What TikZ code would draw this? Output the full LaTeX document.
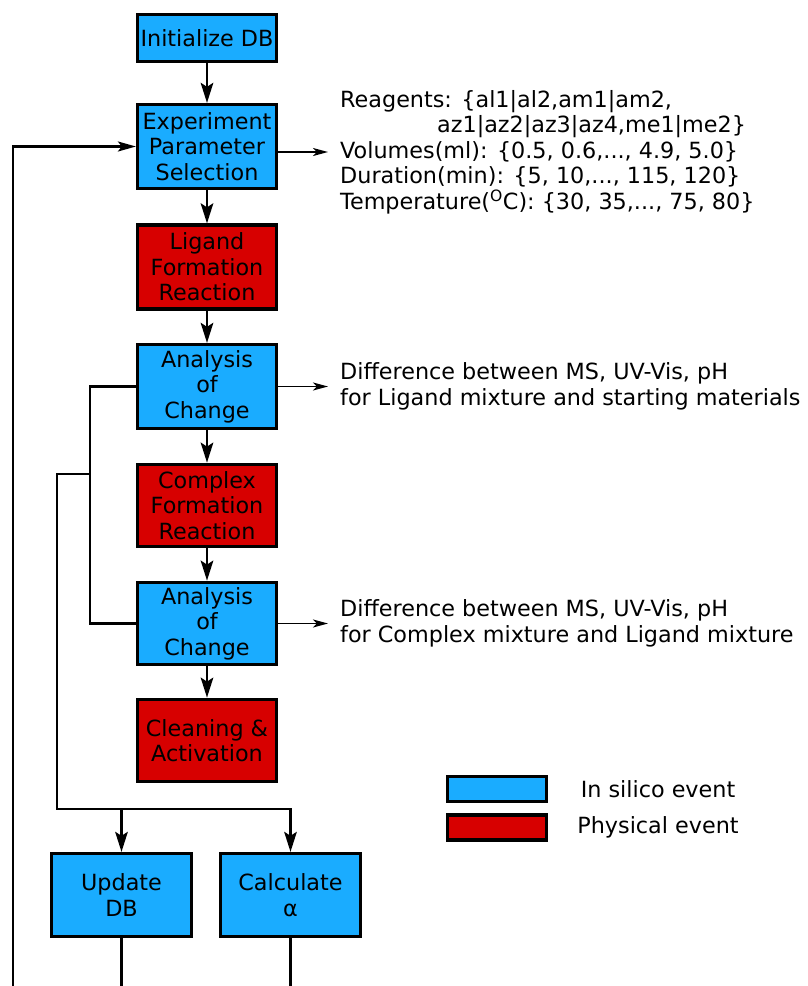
\documentclass[tikz,border=0pt]{standalone}
\usepackage{fontspec}
\setmainfont{DejaVu Sans}
\usetikzlibrary{arrows.meta}

\definecolor{silico}{RGB}{26,172,255}
\definecolor{physical}{RGB}{215,0,0}

\begin{document}
\begin{tikzpicture}[x=1pt, y=-1pt,
	font=\fontsize{22.3}{25.5}\selectfont,
	>={Stealth[length=20pt,width=12.5pt,inset=4pt]},
	box/.style={draw, line width=3.2pt, align=center, inner sep=0pt, minimum width=139pt, minimum height=84pt},
	silicobox/.style={box, fill=silico},
	physbox/.style={box, fill=physical},
	flow/.style={line width=2.6pt, ->},
	wire/.style={line width=2.2pt},
	loopflow/.style={line width=2.2pt, ->, >={Stealth[length=18pt,width=10pt,inset=4pt]}},
	note/.style={line width=1.8pt, ->, >={Stealth[length=15pt,width=8pt,inset=4pt]}},
	notetext/.style={anchor=west, align=left, inner xsep=12pt, inner ysep=0pt},
	keybox/.style={draw, line width=3.2pt, minimum width=99pt, minimum height=25pt, inner sep=0pt}]

	\useasboundingbox (0,0) rectangle (808,986);

	\node[silicobox, minimum height=47pt] (init) at (207,38) {Initialize DB};
	\node[silicobox] (exp) at (207,146.5) {Experiment\\Parameter\\Selection};
	\node[physbox] (lig) at (207,267) {Ligand\\Formation\\Reaction};
	\node[silicobox] (ana1) at (207,386.5) {Analysis\\of\\Change};
	\node[physbox, minimum height=82.5pt] (comp) at (207,505.5) {Complex\\Formation\\Reaction};
	\node[silicobox, minimum height=82.5pt] (ana2) at (207,623.5) {Analysis\\of\\Change};
	\node[physbox, minimum height=82.5pt] (clean) at (207,740.5) {Cleaning \&\\Activation};
	\node[silicobox, minimum width=140pt, minimum height=83pt] (upd) at (121.5,895) {Update\\DB};
	\node[silicobox, minimum width=140pt, minimum height=83pt] (calc) at (290.5,895) {Calculate\\α};

	\draw[flow] (init) -- (exp);
	\draw[flow] (exp) -- (lig);
	\draw[flow] (lig) -- (ana1);
	\draw[flow] (ana1) -- (comp);
	\draw[flow] (comp) -- (ana2);
	\draw[flow] (ana2) -- (clean);

	\coordinate (loopstart) at (13,986);
	\draw[loopflow] (loopstart) |- (exp);

	\draw[wire] (ana1.west) -- ++(-46,0) |- (ana2.west);
	\coordinate (tap) at (90,474);
	\coordinate (bus) at (57,809);
	\draw[flow] (tap) -| (bus) -| (calc);
	\draw[flow] (upd |- bus) -- (upd);

	\coordinate (updout) at (121.5,986);
	\coordinate (calcout) at (290.5,986);
	\draw[wire] (upd) -- (updout);
	\draw[wire] (calc) -- (calcout);

	\node[notetext] (params) at (328,152) {Reagents: \{al1|al2,am1|am2,\\\hspace*{97pt}az1|az2|az3|az4,me1|me2\}\\Volumes(ml): \{0.5, 0.6,..., 4.9, 5.0\}\\Duration(min): \{5, 10,..., 115, 120\}\\Temperature(\textsuperscript{O}C): \{30, 35,..., 75, 80\}};
	\node[notetext] (diff1) at (328,386.5) {Difference between MS, UV-Vis, pH\\for Ligand mixture and starting materials};
	\node[notetext] (diff2) at (328,623.5) {Difference between MS, UV-Vis, pH\\for Complex mixture and Ligand mixture};
	\draw[note] (exp.east |- params.west) -- (params.west);
	\draw[note] (ana1) -- (diff1);
	\draw[note] (ana2) -- (diff2);

	\node[keybox, fill=silico] (keysilico) at (497,789) {};
	\node[keybox, fill=physical] (keyphys) at (497,827.5) {};
	\node (keysilicotext) at (658,789) {In silico event};
	\node (keyphystext) at (658,827) {Physical event};
\end{tikzpicture}
\end{document}
